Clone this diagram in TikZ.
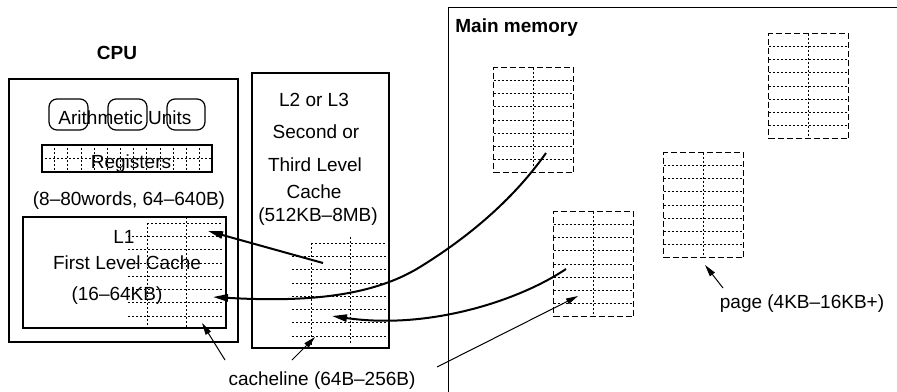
\documentclass[tikz,border=0pt]{standalone}
\usepackage{fontspec}
\setmainfont{Liberation Sans}
\usetikzlibrary{arrows.meta,positioning,calc}

\tikzset{
  box/.style={draw,line width=0.6pt},
  unitbox/.style={draw,line width=0.6pt,rounded corners=4pt,minimum width=19.5pt,minimum height=15.5pt},
  gridline/.style={line width=0.4pt,dash pattern=on 1pt off 1pt},
  pagebox/.style={draw,line width=0.5pt,dash pattern=on 3pt off 1.5pt,
    minimum width=40pt,minimum height=52.5pt,anchor=north west,
    path picture={
      \foreach \k in {1,...,7}
        \draw[gridline] ($(path picture bounding box.north west)!\k/8!(path picture bounding box.south west)$)
          -- ($(path picture bounding box.north east)!\k/8!(path picture bounding box.south east)$);
      \draw[gridline] (path picture bounding box.north) -- (path picture bounding box.south);
    }},
  bigarrow/.style={-{Triangle[length=7.5pt,width=3.6pt]},line width=1pt},
  thinarrow/.style={-{Triangle[length=6pt,width=3pt]},line width=0.5pt}
}

\begin{document}
\begin{tikzpicture}[x=0.5pt,y=-0.5pt,every node/.style={font=\fontsize{9.5}{11}\selectfont,inner sep=0pt}]
\useasboundingbox (0,0) rectangle (897,391);
\clip (0,0) rectangle (897,391);

% CPU
\node[font=\fontsize{9.5}{11}\selectfont\bfseries] (cpulabel) at (117,53) {CPU};
\node[box,minimum width=114.5pt,minimum height=131.5pt] (cpu) at (123.5,210.5) {};
\node[unitbox] (alu1) at (68.5,114.5) {};
\node[unitbox] (alu2) at (127.5,114.5) {};
\node[unitbox,minimum width=19pt] (alu3) at (186,114.5) {};
\node (alutext) at (125,118) {Arithmetic Units};
\node[box,minimum width=85pt,minimum height=13.5pt] (regs) at (127,158.5) {};
\foreach \k in {1,...,12}
  \draw[gridline] ($(regs.north west)!\k/13!(regs.north east)$) -- ($(regs.south west)!\k/13!(regs.south east)$);
\draw[gridline] (regs.west) -- (regs.east);
\node (regtext) at (131,164) {Registers};
\node (regsize) at (129,201) {(8--80words, 64--640B)};

% L1
\node[box,minimum width=101.5pt,minimum height=55.5pt] (l1) at (124.5,272.5) {};
\draw[gridline] (147,223) -- (223,223);
\foreach \k in {1,...,7}
  \draw[gridline] (128,{223+\k*13.3}) -- (223,{223+\k*13.3});
\draw[gridline] (147,223) -- (147,328);
\draw[gridline] (186,217) -- (186,328);
\node (l1a) at (124,237) {L1};
\node (l1b) at (127,263) {First Level Cache};
\node (l1c) at (117,296) {(16--64KB)};

% L2 / L3
\node[box,minimum width=68.5pt,minimum height=137.5pt] (l2) at (320.5,210.5) {};
\node (l2a) at (314,100) {L2 or L3};
\node (l2b) at (316,132) {Second or};
\node (l2c) at (315,165) {Third Level};
\node (l2d) at (314,192) {Cache};
\node (l2e) at (318,217) {(512KB--8MB)};
\draw[gridline] (311,243) -- (387,243);
\foreach \k in {1,...,7}
  \draw[gridline] (292,{243+\k*13.3}) -- (387,{243+\k*13.3});
\draw[gridline] (311,243) -- (311,345);
\draw[gridline] (350,237) -- (350,345);

% main memory
\node[box,anchor=north west,minimum width=240pt,minimum height=200pt] (mem) at (448,7) {};
\node[font=\fontsize{9.5}{11}\selectfont\bfseries,anchor=west] (memlabel) at (455,28) {Main memory};
\node[pagebox] (p1) at (493,67) {};
\node[pagebox] (p2) at (768,33) {};
\node[pagebox] (p3) at (663,152) {};
\node[pagebox] (p4) at (553,211) {};

% labels
\node (cachelbl) at (322,381) {cacheline (64B--256B)};
\node (pagelbl) at (802,304) {page (4KB--16KB+)};

% arrow ends
\coordinate (a1s) at (546,153);
\coordinate (a1m) at (420,267);
\coordinate (a1e) at (213,297);
\coordinate (a2s) at (323,263);
\coordinate (a2e) at (208,231);
\coordinate (a3s) at (566,269);
\coordinate (a3e) at (332,316);
\coordinate (c1s) at (225,360);
\coordinate (c1e) at (202,323);
\coordinate (c2s) at (292,360);
\coordinate (c2e) at (315,337);
\coordinate (c3s) at (437,367);
\coordinate (c3e) at (578,296);
\coordinate (pgs) at (723,288);
\coordinate (pge) at (705,265);

\draw[bigarrow] (a1s) .. controls (520,190) and (480,230) .. (a1m)
  .. controls (370,298) and (300,302) .. (a1e);
\draw[bigarrow] (a2s) -- (a2e);
\draw[bigarrow] (a3s) .. controls (520,300) and (430,330) .. (a3e);
\draw[thinarrow] (c1s) -- (c1e);
\draw[thinarrow] (c2s) -- (c2e);
\draw[thinarrow] (c3s) -- (c3e);
\draw[thinarrow] (pgs) -- (pge);
\end{tikzpicture}
\end{document}
